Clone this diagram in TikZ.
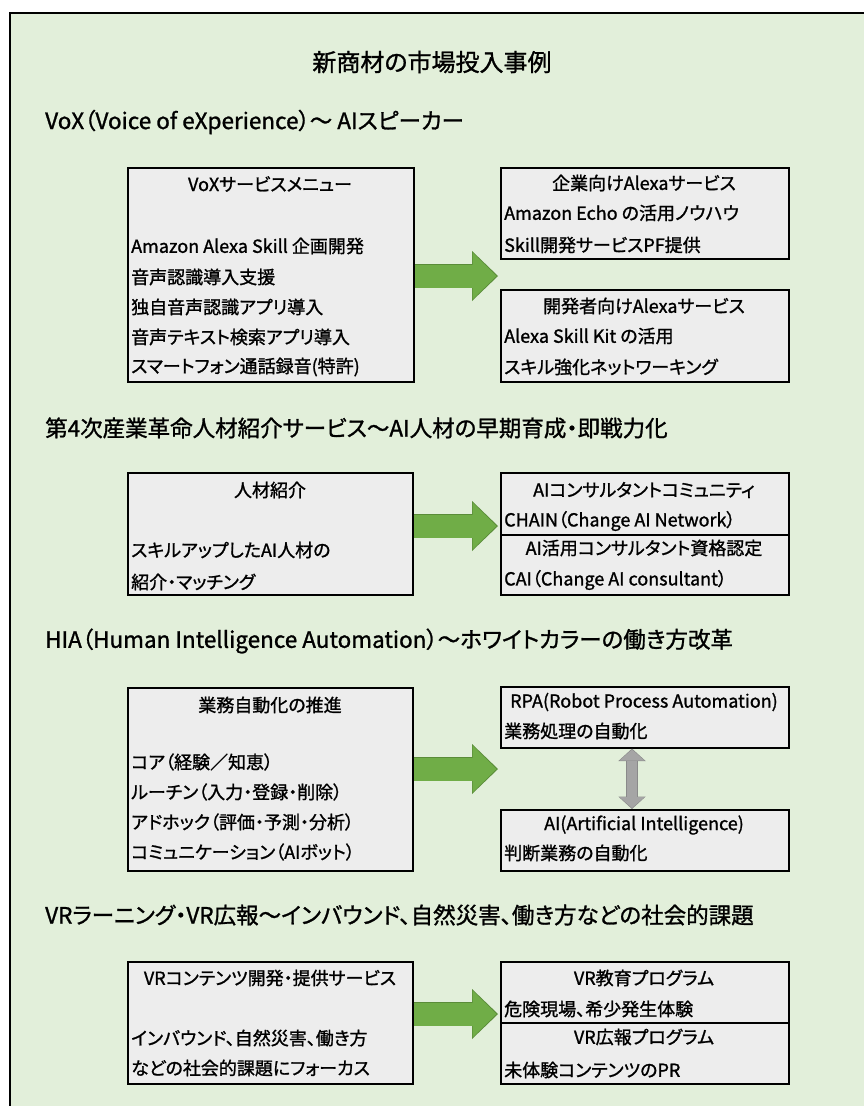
\documentclass[tikz,border=0pt]{standalone}
\usepackage{fontspec}
\setmainfont{Noto Sans CJK JP}[RawFeature=+palt, FakeBold=1.2]
\usetikzlibrary{arrows.meta}
\definecolor{bggreen}{HTML}{E2EFDA}
\definecolor{boxgray}{HTML}{EDEDED}
\definecolor{arrowgreen}{HTML}{70AD47}
\definecolor{arrowdark}{HTML}{5A8C38}
\definecolor{arrowgray}{HTML}{A5A5A5}
\definecolor{graydark}{HTML}{8A8A8A}
\tikzset{
  box/.style={draw, line width=1.6pt, fill=boxgray, inner sep=0pt, anchor=north west},
  ttl/.style={inner sep=0pt, font=\fontsize{18}{20}\selectfont},
  itm/.style={inner sep=0pt, anchor=west, font=\fontsize{18}{20}\selectfont},
  head/.style={inner sep=0pt, anchor=west, font=\fontsize{22.5}{25}\selectfont},
  bigarrow/.style={draw=arrowgreen, line width=23pt, shorten >=3.5pt,
    -{Triangle[length=24pt,width=47pt,line width=0pt]},
    preaction={draw=arrowdark, line width=24.5pt, shorten >=2pt,
      -{Triangle[length=26pt,width=50pt,line width=0pt]}}},
  updown/.style={draw=arrowgray, line width=10.5pt, shorten <=1pt, shorten >=1pt,
    {Triangle[length=11pt,width=25pt,line width=0pt]}-{Triangle[length=11pt,width=25pt,line width=0pt]},
    preaction={draw=graydark, line width=12pt, shorten <=0pt, shorten >=0pt,
      {Triangle[length=12.5pt,width=27.5pt,line width=0pt]}-{Triangle[length=12.5pt,width=27.5pt,line width=0pt]}}}
}
\begin{document}
\begin{tikzpicture}[x=1pt,y=-1pt]
  \useasboundingbox (0,0) rectangle (864,1106);

  % Rahmen
  \fill[bggreen] (10,13) rectangle (864,1106);
  \draw[line width=2.5pt] (10,1106) -- (10,13) -- (864,13);

  \node[inner sep=0pt, font=\fontsize{24}{28}\selectfont] (title) at (432,62) {新商材の市場投入事例};

  % VoX
  \node[head] (h1) at (45,122) {VoX（Voice of eXperience）～ AIスピーカー};
  \node[box, minimum width=286pt, minimum height=214pt] (vox) at (127,167) {};
  \node[ttl] (vox-t) at (270,184) {VoXサービスメニュー};
  \foreach \y/\t [count=\i] in {246/{Amazon Alexa Skill 企画開発}, 277/{音声認識導入支援},
      307/{独自音声認識アプリ導入}, 337/{音声テキスト検索アプリ導入}, 367/{スマートフォン通話録音(特許)}} {
    \node[itm] (vox-\i) at (131,\y) {\t};
  }
  \node[box, minimum width=288pt, minimum height=91pt] (biz) at (500,167) {};
  \node[ttl] (biz-t) at (644,183) {企業向けAlexaサービス};
  \node[itm] (biz-1) at (504,213) {Amazon Echo の活用ノウハウ};
  \node[itm] (biz-2) at (504,245) {Skill開発サービスPF提供};
  \node[box, minimum width=288pt, minimum height=92pt] (dev) at (500,289) {};
  \node[ttl] (dev-t) at (644,306) {開発者向けAlexaサービス};
  \node[itm] (dev-1) at (504,336) {Alexa Skill Kit の活用};
  \node[itm] (dev-2) at (504,367) {スキル強化ネットワーキング};
  \draw[bigarrow] (vox.east |- 0,276) -- (biz.west |- 0,276);

  % Jinzai
  \node[head] (h2) at (45,428) {第4次産業革命人材紹介サービス～AI人材の早期育成・即戦力化};
  \node[box, minimum width=285pt, minimum height=122pt] (jin) at (127,472) {};
  \node[ttl] (jin-t) at (270,490) {人材紹介};
  \node[itm] (jin-1) at (131,550) {スキルアップしたAI人材の};
  \node[itm] (jin-2) at (131,582) {紹介・マッチング};
  \node[box, minimum width=288pt, minimum height=62pt] (chain) at (500,472) {};
  \node[ttl] (chain-t) at (644,490) {AIコンサルタントコミュニティ};
  \node[itm] (chain-1) at (504,521) {CHAIN（Change AI Network）};
  \node[box, minimum width=288pt, minimum height=60pt] (cai) at (500,534) {};
  \node[ttl] (cai-t) at (644,548) {AI活用コンサルタント資格認定};
  \node[itm] (cai-1) at (504,580) {CAI（Change AI consultant）};
  \draw[bigarrow] (jin.east |- 0,526) -- (chain.west |- 0,526);

  % HIA
  \node[head] (h3) at (45,641) {HIA（Human Intelligence Automation）～ホワイトカラーの働き方改革};
  \node[box, minimum width=285pt, minimum height=183pt] (auto) at (127,687) {};
  \node[ttl] (auto-t) at (270,705) {業務自動化の推進};
  \foreach \y/\t [count=\i] in {762/{コア（経験／知恵）}, 792/{ルーチン（入力・登録・削除）},
      822/{アドホック（評価・予測・分析）}, 852/{コミュニケーション（AIボット）}} {
    \node[itm] (auto-\i) at (131,\y) {\t};
  }
  \node[box, minimum width=288pt, minimum height=61pt] (rpa) at (500,686) {};
  \node[ttl] (rpa-t) at (644,702) {RPA(Robot Process Automation)};
  \node[itm] (rpa-1) at (504,731) {業務処理の自動化};
  \node[box, minimum width=288pt, minimum height=61pt] (ai) at (500,809) {};
  \node[ttl] (ai-t) at (644,825) {AI(Artificial Intelligence)};
  \node[itm] (ai-1) at (504,853) {判断業務の自動化};
  \draw[bigarrow] (auto.east |- 0,769) -- (rpa.west |- 0,769);
  \draw[updown] (rpa.south -| 632,0) -- (ai.north -| 632,0);

  % VR
  \node[head] (h4) at (45,915) {VRラーニング・VR広報～インバウンド、自然災害、働き方などの社会的課題};
  \node[box, minimum width=285pt, minimum height=122pt] (vr) at (127,961) {};
  \node[ttl] (vr-t) at (270,978) {VRコンテンツ開発・提供サービス};
  \node[itm] (vr-1) at (131,1038) {インバウンド、自然災害、働き方};
  \node[itm] (vr-2) at (131,1068) {などの社会的課題にフォーカス};
  \node[box, minimum width=288pt, minimum height=61pt] (edu) at (500,961) {};
  \node[ttl] (edu-t) at (644,978) {VR教育プログラム};
  \node[itm] (edu-1) at (504,1009) {危険現場、希少発生体験};
  \node[box, minimum width=288pt, minimum height=61pt] (pr) at (500,1022) {};
  \node[ttl] (pr-t) at (644,1037) {VR広報プログラム};
  \node[itm] (pr-1) at (504,1070) {未体験コンテンツのPR};
  \draw[bigarrow] (vr.east |- 0,1014) -- (edu.west |- 0,1014);
\end{tikzpicture}
\end{document}
